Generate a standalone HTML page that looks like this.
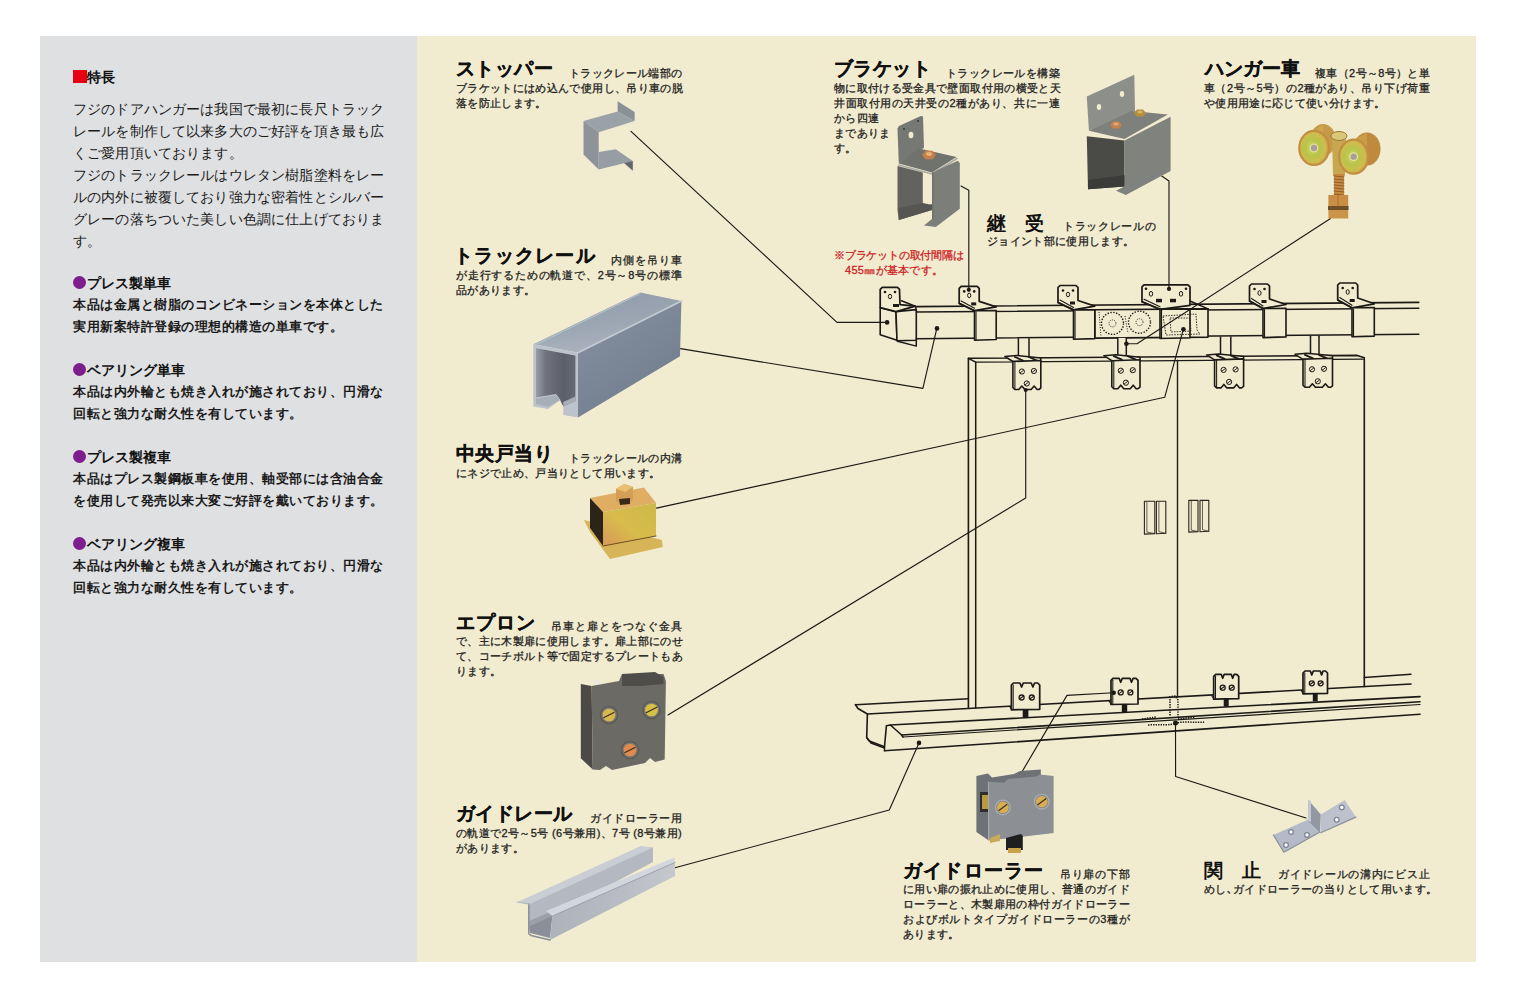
<!DOCTYPE html>
<html><head><meta charset="utf-8">
<style>
html,body{margin:0;padding:0;background:#fff;}
body{width:1520px;height:1002px;position:relative;overflow:hidden;font-family:"Liberation Sans",sans-serif;color:#111;}
#gray{position:absolute;left:40px;top:36px;width:377px;height:926px;background:#dfe0e2;}
#beige{position:absolute;left:417px;top:36px;width:1059px;height:926px;background:#f1ebcf;}
.t{position:absolute;white-space:nowrap;}
.lp{font-size:14px;line-height:22px;letter-spacing:0.15px;color:#1a1a1a;}
.lb{font-size:13px;line-height:22px;font-weight:bold;letter-spacing:0.5px;color:#1a1a1a;}
.h{font-size:14.3px;font-weight:bold;line-height:20px;}
.dot{display:inline-block;width:13px;height:13px;border-radius:50%;background:#7d1d8e;vertical-align:-1px;margin-right:1px;}
.sq{display:inline-block;width:13.5px;height:13.5px;background:#e60012;vertical-align:-1px;}
.tt{font-size:19px;font-weight:bold;line-height:24px;letter-spacing:0.4px;-webkit-text-stroke:0.35px #111;}
.d{font-size:11px;line-height:15px;font-weight:normal;-webkit-text-stroke-width:0.3px;letter-spacing:0.35px;color:#1e1e1e;}
.j{text-align:justify;text-align-last:justify;}
svg{position:absolute;left:0;top:0;}
</style></head><body>
<div id="gray"></div>
<div id="beige"></div>

<!-- left panel -->
<div class="t h" style="left:73px;top:67px;"><span class="sq"></span>特長</div>
<div class="t lp" style="left:73px;top:98px;">フジのドアハンガーは我国で最初に長尺トラック<br>レールを制作して以来多大のご好評を頂き最も広<br>くご愛用頂いております。<br>フジのトラックレールはウレタン樹脂塗料をレー<br>ルの内外に被覆しており強力な密着性とシルバー<br>グレーの落ちついた美しい色調に仕上げておりま<br>す。</div>

<div class="t h" style="left:73px;top:273px;"><span class="dot"></span>プレス製単車</div>
<div class="t lb" style="left:73px;top:294px;">本品は金属と樹脂のコンビネーションを本体とした<br>実用新案特許登録の理想的構造の単車です。</div>
<div class="t h" style="left:73px;top:360px;"><span class="dot"></span>ベアリング単車</div>
<div class="t lb" style="left:73px;top:381px;">本品は内外輪とも焼き入れが施されており、円滑な<br>回転と強力な耐久性を有しています。</div>
<div class="t h" style="left:73px;top:447px;"><span class="dot"></span>プレス製複車</div>
<div class="t lb" style="left:73px;top:468px;">本品はプレス製鋼板車を使用、軸受部には含油合金<br>を使用して発売以来大変ご好評を戴いております。</div>
<div class="t h" style="left:73px;top:534px;"><span class="dot"></span>ベアリング複車</div>
<div class="t lb" style="left:73px;top:555px;">本品は内外輪とも焼き入れが施されており、円滑な<br>回転と強力な耐久性を有しています。</div>

<!-- right labels -->
<div class="t tt" style="left:456px;top:57px;">ストッパー</div>
<div class="t d j" style="left:569px;top:66px;width:113px;">トラックレール端部の</div>
<div class="t d j" style="left:456px;top:81px;width:226px;">ブラケットにはめ込んで使用し、吊り車の脱</div>
<div class="t d" style="left:456px;top:96px;">落を防止します。</div>
<div class="t tt" style="left:454px;top:244px;letter-spacing:1.3px;">トラックレール</div>
<div class="t d j" style="left:611px;top:253px;width:71px;">内側を吊り車</div>
<div class="t d j" style="left:456px;top:268px;width:226px;">が走行するための軌道で、2号～8号の標準</div>
<div class="t d" style="left:456px;top:283px;">品があります。</div>
<div class="t tt" style="left:456px;top:442px;">中央戸当り</div>
<div class="t d j" style="left:569px;top:451px;width:113px;">トラックレールの内溝</div>
<div class="t d" style="left:456px;top:466px;">にネジで止め、戸当りとして用います。</div>
<div class="t tt" style="left:456px;top:611px;letter-spacing:0.9px;">エプロン</div>
<div class="t d j" style="left:551px;top:619px;width:131px;">吊車と扉とをつなぐ金具</div>
<div class="t d j" style="left:456px;top:634px;width:226px;">で、主に木製扉に使用します。扉上部にのせ</div>
<div class="t d j" style="left:456px;top:649px;width:226px;">て、コーチボルト等で固定するプレートもあ</div>
<div class="t d" style="left:456px;top:664px;">ります。</div>
<div class="t tt" style="left:456px;top:802px;">ガイドレール</div>
<div class="t d j" style="left:590px;top:811px;width:92px;">ガイドローラー用</div>
<div class="t d j" style="left:456px;top:826px;width:226px;">の軌道で2号～5号 (6号兼用)、7号 (8号兼用)</div>
<div class="t d" style="left:456px;top:841px;">があります。</div>
<div class="t tt" style="left:834px;top:57px;">ブラケット</div>
<div class="t d j" style="left:946px;top:66px;width:114px;">トラックレールを構築</div>
<div class="t d j" style="left:834px;top:81px;width:226px;">物に取付ける受金具で壁面取付用の横受と天</div>
<div class="t d j" style="left:834px;top:96px;width:226px;">井面取付用の天井受の2種があり、共に一連</div>
<div class="t d" style="left:834px;top:111px;">から四連</div>
<div class="t d" style="left:834px;top:126px;">までありま</div>
<div class="t d" style="left:834px;top:141px;">す。</div>
<div class="t tt" style="left:1205px;top:57px;letter-spacing:0px;">ハンガー車</div>
<div class="t d j" style="left:1315px;top:66px;width:115px;">複車（2号～8号）と単</div>
<div class="t d j" style="left:1204px;top:81px;width:226px;">車（2号～5号）の2種があり、吊り下げ荷重</div>
<div class="t d" style="left:1204px;top:96px;">や使用用途に応じて使い分けます。</div>
<div class="t tt" style="left:987px;top:212px;-webkit-text-stroke:0;font-size:19px;letter-spacing:0;">継　受</div>
<div class="t d j" style="left:1063px;top:219px;width:93px;">トラックレールの</div>
<div class="t d" style="left:987px;top:234px;">ジョイント部に使用します。</div>
<div class="t d" style="left:834px;top:248px;color:#cc1f28;letter-spacing:-0.2px;">※ブラケットの取付間隔は</div>
<div class="t d" style="left:845px;top:263px;color:#cc1f28;letter-spacing:0.3px;">455㎜が基本です。</div>
<div class="t tt" style="left:903px;top:859px;letter-spacing:1.2px;">ガイドローラー</div>
<div class="t d j" style="left:1060px;top:867px;width:70px;">吊り扉の下部</div>
<div class="t d j" style="left:903px;top:882px;width:227px;">に用い扉の振れ止めに使用し、普通のガイド</div>
<div class="t d j" style="left:903px;top:897px;width:227px;">ローラーと、木製扉用の枠付ガイドローラー</div>
<div class="t d j" style="left:903px;top:912px;width:227px;">およびボルトタイプガイドローラーの3種が</div>
<div class="t d" style="left:903px;top:927px;">あります。</div>
<div class="t tt" style="left:1204px;top:859px;-webkit-text-stroke:0;font-size:19px;letter-spacing:0;">関　止</div>
<div class="t d j" style="left:1278px;top:867px;width:152px;">ガイドレールの溝内にビス止</div>
<div class="t d j" style="left:1204px;top:882px;width:228px;">めし､ガイドローラーの当りとして用います。</div>
<svg width="1520" height="1002" viewBox="0 0 1520 1002">
<path d="M968.4,358.3 L1358.3,355.3 L1364.3,357.8 L1364.3,686.6 L968.4,707.4Z" fill="#f1ebcf" stroke="none" stroke-width="1.0" stroke-linejoin="round" />
<path d="M968.4,707.4 L968.4,358.3 L1357.3,355.4 L1364.3,357.8 L1364.3,686.6" fill="none" stroke="#1c1a16" stroke-width="1.6099999999999999" stroke-linejoin="round" stroke-linecap="round" />
<path d="M968.4,358.3 L975.7,362.2 L975.7,708.0" fill="none" stroke="#1c1a16" stroke-width="1.4949999999999999" stroke-linejoin="round" stroke-linecap="round" />
<path d="M975.7,362.2 L1363.3,359.2" fill="none" stroke="#1c1a16" stroke-width="1.265" stroke-linejoin="round" stroke-linecap="round" />
<path d="M1177.5,360.2 L1177.5,696.9" fill="none" stroke="#1c1a16" stroke-width="1.38" stroke-linejoin="round" stroke-linecap="round" />
<path d="M1144.4,501.2 L1154.8,501.2 L1154.8,533.6 L1144.4,534.1Z" fill="none" stroke="#2a261e" stroke-width="1.1" stroke-linejoin="round" />
<path d="M1146.9,502.2 L1146.9,532.1 L1154.8,533.6" fill="none" stroke="#2a261e" stroke-width="0.7" stroke-linejoin="round" stroke-linecap="round" />
<path d="M1156.4,501.2 L1165.8,501.2 L1165.8,533.2 L1156.4,533.7Z" fill="none" stroke="#2a261e" stroke-width="1.1" stroke-linejoin="round" />
<path d="M1158.9,502.2 L1158.9,531.7 L1165.8,533.2" fill="none" stroke="#2a261e" stroke-width="0.7" stroke-linejoin="round" stroke-linecap="round" />
<path d="M1188.8,500.4 L1198.0,500.4 L1198.0,531.6 L1188.8,532.1Z" fill="none" stroke="#2a261e" stroke-width="1.1" stroke-linejoin="round" />
<path d="M1191.3,501.4 L1191.3,530.1 L1198.0,531.6" fill="none" stroke="#2a261e" stroke-width="0.7" stroke-linejoin="round" stroke-linecap="round" />
<path d="M1200.0,500.4 L1208.8,500.4 L1208.8,531.2 L1200.0,531.7Z" fill="none" stroke="#2a261e" stroke-width="1.1" stroke-linejoin="round" />
<path d="M1202.5,501.4 L1202.5,529.7 L1208.8,531.2" fill="none" stroke="#2a261e" stroke-width="0.7" stroke-linejoin="round" stroke-linecap="round" />
<path d="M855.5,704.7 L858.0,708.5 L867.4,714.0 L866.7,737.6 L869.3,741.0 L884.5,746.8 L886.4,725.8 L890.4,725.0 L901.6,735.0 L903.0,737.0" fill="none" stroke="#1c1a16" stroke-width="1.6099999999999999" stroke-linejoin="round" stroke-linecap="round" />
<path d="M855.5,704.7 L968.4,698.8" fill="none" stroke="#1c1a16" stroke-width="1.6099999999999999" stroke-linejoin="round" stroke-linecap="round" />
<path d="M1364.3,677.5 L1411.0,674.2" fill="none" stroke="#1c1a16" stroke-width="1.6099999999999999" stroke-linejoin="round" stroke-linecap="round" />
<path d="M867.4,714.0 L1411.0,684.0" fill="none" stroke="#1c1a16" stroke-width="1.6099999999999999" stroke-linejoin="round" stroke-linecap="round" />
<path d="M890.4,725.0 L1420.0,696.6" fill="none" stroke="#1c1a16" stroke-width="1.6099999999999999" stroke-linejoin="round" stroke-linecap="round" />
<path d="M901.6,735.0 L1420.0,701.8" fill="none" stroke="#1c1a16" stroke-width="1.6099999999999999" stroke-linejoin="round" stroke-linecap="round" />
<path d="M903.0,737.0 L1420.0,704.5" fill="none" stroke="#1c1a16" stroke-width="1.15" stroke-linejoin="round" stroke-linecap="round" />
<path d="M884.5,750.8 L1420.0,714.3" fill="none" stroke="#1c1a16" stroke-width="1.6099999999999999" stroke-linejoin="round" stroke-linecap="round" />
<path d="M867.0,738.0 L871.0,743.0 L884.5,748.0" fill="none" stroke="#1c1a16" stroke-width="1.4949999999999999" stroke-linejoin="round" stroke-linecap="round" />
<path d="M884.5,746.8 L884.5,750.8" fill="none" stroke="#1c1a16" stroke-width="1.38" stroke-linejoin="round" stroke-linecap="round" />
<path d="M880.2,307.6 L896.0,311.6 L897.0,340.2 L880.2,334.8Z" fill="#f1ebcf" stroke="#1c1a16" stroke-width="1.6099999999999999" stroke-linejoin="round" />
<path d="M896.0,311.6 L916.3,309.6 L916.3,340.2 L897.0,340.7Z" fill="#f1ebcf" stroke="#1c1a16" stroke-width="1.6099999999999999" stroke-linejoin="round" />
<path d="M901.5,300.7 L915.3,306.2 L916.3,309.6" fill="none" stroke="#1c1a16" stroke-width="1.4949999999999999" stroke-linejoin="round" stroke-linecap="round" />
<path d="M897.5,341.2 L916.3,346.1 L916.3,340.2" fill="none" stroke="#1c1a16" stroke-width="1.4949999999999999" stroke-linejoin="round" stroke-linecap="round" />
<path d="M916.3,306.6 L1418.8,302.4" fill="none" stroke="#1c1a16" stroke-width="1.6099999999999999" stroke-linejoin="round" stroke-linecap="round" />
<path d="M916.3,312.1 L1418.8,308.3" fill="none" stroke="#1c1a16" stroke-width="1.4949999999999999" stroke-linejoin="round" stroke-linecap="round" />
<path d="M916.3,338.7 L1418.8,334.2" fill="none" stroke="#1c1a16" stroke-width="1.6099999999999999" stroke-linejoin="round" stroke-linecap="round" />
<path d="M880.2,305.7 L880.2,289.4 L882.2,287.4 L897.5,287.4 L899.5,289.4 L900.0,304.7 L915.3,306.2 L896.0,311.6 L880.2,307.6Z" fill="#f1ebcf" stroke="#1c1a16" stroke-width="1.7249999999999999" stroke-linejoin="round" />
<circle cx="885.0" cy="292.0" r="1.3" fill="#1c1a16"/>
<circle cx="895.0" cy="292.0" r="1.3" fill="#1c1a16"/>
<ellipse cx="890" cy="296.5" rx="1.6" ry="2.3" fill="none" stroke="#1c1a16" stroke-width="1"/>
<path d="M893.0,304.0 L899.0,304.0 L899.0,307.0 L893.0,307.0Z" fill="#1c1a16" stroke="none" stroke-width="1.0" stroke-linejoin="round" />
<path d="M959.2,288.4 L961.2,286.4 L977.2,286.4 L979.2,288.4 L979.2,302.4 L979.2,303.4Z" fill="none" stroke="none" stroke-width="1.0" stroke-linejoin="round" />
<path d="M959.2,303.4 L959.2,288.4 L961.2,286.4 L977.2,286.4 L979.2,288.4 L979.2,301.4 L996.2,306.9 L974.5,310.7Z" fill="#f1ebcf" stroke="#1c1a16" stroke-width="1.7249999999999999" stroke-linejoin="round" />
<path d="M959.2,303.4 L974.5,310.7" fill="none" stroke="#1c1a16" stroke-width="1.4949999999999999" stroke-linejoin="round" stroke-linecap="round" />
<path d="M961.2,300.9 L974.5,308.2" fill="none" stroke="#1c1a16" stroke-width="1.15" stroke-linejoin="round" stroke-linecap="round" />
<path d="M974.5,310.7 L996.2,310.5 L996.2,339.5 L974.5,340.2Z" fill="#f1ebcf" stroke="#1c1a16" stroke-width="1.6099999999999999" stroke-linejoin="round" />
<path d="M976.0,311.7 L976.0,339.7" fill="none" stroke="#1c1a16" stroke-width="1.15" stroke-linejoin="round" stroke-linecap="round" />
<circle cx="964.2" cy="291.4" r="1.3" fill="#1c1a16"/>
<circle cx="974.2" cy="291.4" r="1.3" fill="#1c1a16"/>
<ellipse cx="969.2" cy="295.4" rx="1.6" ry="2.3" fill="none" stroke="#1c1a16" stroke-width="1"/>
<path d="M971.2,302.4 L976.2,302.4 L976.2,305.4 L971.2,305.4Z" fill="#1c1a16" stroke="none" stroke-width="1.0" stroke-linejoin="round" />
<path d="M1058.0,287.5 L1060.0,285.5 L1076.0,285.5 L1078.0,287.5 L1078.0,301.5 L1078.0,302.5Z" fill="none" stroke="none" stroke-width="1.0" stroke-linejoin="round" />
<path d="M1058.0,302.5 L1058.0,287.5 L1060.0,285.5 L1076.0,285.5 L1078.0,287.5 L1078.0,300.5 L1094.8,306.1 L1073.5,309.9Z" fill="#f1ebcf" stroke="#1c1a16" stroke-width="1.7249999999999999" stroke-linejoin="round" />
<path d="M1058.0,302.5 L1073.5,309.9" fill="none" stroke="#1c1a16" stroke-width="1.4949999999999999" stroke-linejoin="round" stroke-linecap="round" />
<path d="M1060.0,300.0 L1073.5,307.4" fill="none" stroke="#1c1a16" stroke-width="1.15" stroke-linejoin="round" stroke-linecap="round" />
<path d="M1073.5,309.9 L1094.8,309.7 L1094.8,338.6 L1073.5,339.3Z" fill="#f1ebcf" stroke="#1c1a16" stroke-width="1.6099999999999999" stroke-linejoin="round" />
<path d="M1075.0,310.9 L1075.0,338.8" fill="none" stroke="#1c1a16" stroke-width="1.15" stroke-linejoin="round" stroke-linecap="round" />
<circle cx="1063.0" cy="290.5" r="1.3" fill="#1c1a16"/>
<circle cx="1073.0" cy="290.5" r="1.3" fill="#1c1a16"/>
<ellipse cx="1068.0" cy="294.5" rx="1.6" ry="2.3" fill="none" stroke="#1c1a16" stroke-width="1"/>
<path d="M1070.0,301.5 L1075.0,301.5 L1075.0,304.5 L1070.0,304.5Z" fill="#1c1a16" stroke="none" stroke-width="1.0" stroke-linejoin="round" />
<path d="M1094.8,309.7 L1208.0,308.9 L1208.0,337.1 L1094.8,338.1Z" fill="#f1ebcf" stroke="#1c1a16" stroke-width="1.6099999999999999" stroke-linejoin="round" />
<path d="M1142.0,286.8 L1144.0,284.8 L1188.0,284.8 L1190.0,286.8 L1190.0,300.8 L1190.0,301.8Z" fill="none" stroke="none" stroke-width="1.0" stroke-linejoin="round" />
<path d="M1142.0,301.8 L1142.0,286.8 L1144.0,284.8 L1188.0,284.8 L1190.0,286.8 L1190.0,299.8 L1190.0,305.3 L1160.0,309.3Z" fill="#f1ebcf" stroke="#1c1a16" stroke-width="1.7249999999999999" stroke-linejoin="round" />
<path d="M1142.0,301.8 L1160.0,309.3" fill="none" stroke="#1c1a16" stroke-width="1.4949999999999999" stroke-linejoin="round" stroke-linecap="round" />
<path d="M1144.0,299.3 L1160.0,306.8" fill="none" stroke="#1c1a16" stroke-width="1.15" stroke-linejoin="round" stroke-linecap="round" />
<path d="M1160.0,309.3 L1190.0,309.0 L1190.0,337.7 L1160.0,338.5Z" fill="#f1ebcf" stroke="#1c1a16" stroke-width="1.6099999999999999" stroke-linejoin="round" />
<path d="M1161.5,310.3 L1161.5,338.0" fill="none" stroke="#1c1a16" stroke-width="1.15" stroke-linejoin="round" stroke-linecap="round" />
<circle cx="1146.0" cy="288.8" r="1.3" fill="#1c1a16"/>
<circle cx="1186.0" cy="288.8" r="1.3" fill="#1c1a16"/>
<ellipse cx="1151.0" cy="293.8" rx="1.7" ry="2.4" fill="none" stroke="#1c1a16" stroke-width="1"/>
<ellipse cx="1181.0" cy="293.8" rx="1.7" ry="2.4" fill="none" stroke="#1c1a16" stroke-width="1"/>
<path d="M1156.0,298.8 L1162.0,298.8 L1162.0,302.3 L1156.0,302.3Z" fill="#1c1a16" stroke="none" stroke-width="1.0" stroke-linejoin="round" />
<path d="M1170.0,298.8 L1176.0,298.8 L1176.0,302.3 L1170.0,302.3Z" fill="#1c1a16" stroke="none" stroke-width="1.0" stroke-linejoin="round" />
<path d="M1160.0,309.3 L1208.0,308.9" fill="none" stroke="#1c1a16" stroke-width="1.4949999999999999" stroke-linejoin="round" stroke-linecap="round" />
<path d="M1190.0,301.0 L1208.0,308.9" fill="none" stroke="#1c1a16" stroke-width="1.4949999999999999" stroke-linejoin="round" stroke-linecap="round" />
<path d="M1249.5,286.0 L1251.5,284.0 L1267.5,284.0 L1269.5,286.0 L1269.5,300.0 L1269.5,301.0Z" fill="none" stroke="none" stroke-width="1.0" stroke-linejoin="round" />
<path d="M1249.5,301.0 L1249.5,286.0 L1251.5,284.0 L1267.5,284.0 L1269.5,286.0 L1269.5,299.0 L1286.0,304.5 L1263.0,308.5Z" fill="#f1ebcf" stroke="#1c1a16" stroke-width="1.7249999999999999" stroke-linejoin="round" />
<path d="M1249.5,301.0 L1263.0,308.5" fill="none" stroke="#1c1a16" stroke-width="1.4949999999999999" stroke-linejoin="round" stroke-linecap="round" />
<path d="M1251.5,298.5 L1263.0,306.0" fill="none" stroke="#1c1a16" stroke-width="1.15" stroke-linejoin="round" stroke-linecap="round" />
<path d="M1263.0,308.5 L1286.0,308.3 L1286.0,336.9 L1263.0,337.6Z" fill="#f1ebcf" stroke="#1c1a16" stroke-width="1.6099999999999999" stroke-linejoin="round" />
<path d="M1264.5,309.5 L1264.5,337.1" fill="none" stroke="#1c1a16" stroke-width="1.15" stroke-linejoin="round" stroke-linecap="round" />
<circle cx="1254.5" cy="289.0" r="1.3" fill="#1c1a16"/>
<circle cx="1264.5" cy="289.0" r="1.3" fill="#1c1a16"/>
<ellipse cx="1259.5" cy="293.0" rx="1.6" ry="2.3" fill="none" stroke="#1c1a16" stroke-width="1"/>
<path d="M1261.5,300.0 L1266.5,300.0 L1266.5,303.0 L1261.5,303.0Z" fill="#1c1a16" stroke="none" stroke-width="1.0" stroke-linejoin="round" />
<path d="M1337.7,285.0 L1339.7,283.0 L1355.7,283.0 L1357.7,285.0 L1357.7,299.0 L1357.7,300.0Z" fill="none" stroke="none" stroke-width="1.0" stroke-linejoin="round" />
<path d="M1337.7,300.0 L1337.7,285.0 L1339.7,283.0 L1355.7,283.0 L1357.7,285.0 L1357.7,298.0 L1374.3,303.8 L1352.0,307.8Z" fill="#f1ebcf" stroke="#1c1a16" stroke-width="1.7249999999999999" stroke-linejoin="round" />
<path d="M1337.7,300.0 L1352.0,307.8" fill="none" stroke="#1c1a16" stroke-width="1.4949999999999999" stroke-linejoin="round" stroke-linecap="round" />
<path d="M1339.7,297.5 L1352.0,305.3" fill="none" stroke="#1c1a16" stroke-width="1.15" stroke-linejoin="round" stroke-linecap="round" />
<path d="M1352.0,307.8 L1374.3,307.6 L1374.3,336.1 L1352.0,336.8Z" fill="#f1ebcf" stroke="#1c1a16" stroke-width="1.6099999999999999" stroke-linejoin="round" />
<path d="M1353.5,308.8 L1353.5,336.3" fill="none" stroke="#1c1a16" stroke-width="1.15" stroke-linejoin="round" stroke-linecap="round" />
<circle cx="1342.7" cy="288.0" r="1.3" fill="#1c1a16"/>
<circle cx="1352.7" cy="288.0" r="1.3" fill="#1c1a16"/>
<ellipse cx="1347.7" cy="292.0" rx="1.6" ry="2.3" fill="none" stroke="#1c1a16" stroke-width="1"/>
<path d="M1349.7,299.0 L1354.7,299.0 L1354.7,302.0 L1349.7,302.0Z" fill="#1c1a16" stroke="none" stroke-width="1.0" stroke-linejoin="round" />
<path d="M1094.8,309.7 L1094.8,338.1" fill="none" stroke="#1c1a16" stroke-width="1.6099999999999999" stroke-linejoin="round" stroke-linecap="round" />
<circle cx="1112.5" cy="323.4" r="11" fill="none" stroke="#1c1a16" stroke-width="1.4" stroke-dasharray="1.4 1.5"/>
<circle cx="1112.5" cy="323.4" r="3.5" fill="none" stroke="#1c1a16" stroke-width="0.9" stroke-dasharray="1 1.2"/>
<circle cx="1139.5" cy="322.2" r="11" fill="none" stroke="#1c1a16" stroke-width="1.4" stroke-dasharray="1.4 1.5"/>
<circle cx="1139.5" cy="322.2" r="3.5" fill="none" stroke="#1c1a16" stroke-width="0.9" stroke-dasharray="1 1.2"/>
<path d="M1099,312 L1101,336 M1125,316 L1128,333" stroke="#1c1a16" stroke-width="1" stroke-dasharray="1 1.5" fill="none"/>
<path d="M1163,316 L1196,314 L1197,330 L1200,334 L1166,335 Z M1170,318 L1190,318 L1191,331 L1171,332 Z" stroke="#1c1a16" stroke-width="0.9" stroke-dasharray="1.5 1.2" fill="none"/>
<path d="M1018.4,338.8 L1029.0,338.8 L1029.0,356.0 L1018.4,356.0Z" fill="#f1ebcf" stroke="none" stroke-width="1.0" stroke-linejoin="round" />
<path d="M1018.4,338.8 L1018.4,356.0" fill="none" stroke="#1c1a16" stroke-width="1.4949999999999999" stroke-linejoin="round" stroke-linecap="round" />
<path d="M1029.0,338.8 L1029.0,356.0" fill="none" stroke="#1c1a16" stroke-width="1.4949999999999999" stroke-linejoin="round" stroke-linecap="round" />
<path d="M1004.9,356.5 L1016.9,355.5 L1040.8,358.0 L1040.8,361.5 L1012.9,361.5Z" fill="#f1ebcf" stroke="#1c1a16" stroke-width="1.4949999999999999" stroke-linejoin="round" />
<path d="M1014.9,357.0 L1022.9,360.5" fill="none" stroke="#1c1a16" stroke-width="1.8399999999999999" stroke-linejoin="round" stroke-linecap="round" />
<path d="M1028.9,357.0 L1036.9,360.5" fill="none" stroke="#1c1a16" stroke-width="1.8399999999999999" stroke-linejoin="round" stroke-linecap="round" />
<path d="M1012.9,361.5 L1040.8,360.5 L1040.8,388.0 L1038.8,389.5 L1037.1,389.5 L1034.1,386.0 L1031.1,389.5 L1024.8,389.5 L1021.8,386.0 L1018.8,389.5 L1014.9,389.5 L1012.9,387.5Z" fill="#f1ebcf" stroke="#1c1a16" stroke-width="1.6099999999999999" stroke-linejoin="round" />
<path d="M1014.9,361.5 L1014.9,388.5" fill="none" stroke="#1c1a16" stroke-width="1.035" stroke-linejoin="round" stroke-linecap="round" />
<circle cx="1021.9" cy="371.5" r="2.6" fill="none" stroke="#1c1a16" stroke-width="1.0" />
<path d="M1020.3,372.7 L1023.5,370.3" fill="none" stroke="#1c1a16" stroke-width="0.9199999999999999" stroke-linejoin="round" stroke-linecap="round" />
<circle cx="1033.9" cy="371.0" r="2.6" fill="none" stroke="#1c1a16" stroke-width="1.0" />
<path d="M1032.3,372.2 L1035.5,369.8" fill="none" stroke="#1c1a16" stroke-width="0.9199999999999999" stroke-linejoin="round" stroke-linecap="round" />
<circle cx="1026.8" cy="383.5" r="2.6" fill="none" stroke="#1c1a16" stroke-width="1.0" />
<path d="M1025.2,384.7 L1028.4,382.3" fill="none" stroke="#1c1a16" stroke-width="0.9199999999999999" stroke-linejoin="round" stroke-linecap="round" />
<path d="M1117.8,337.9 L1126.3,337.9 L1126.3,355.2 L1117.8,355.2Z" fill="#f1ebcf" stroke="none" stroke-width="1.0" stroke-linejoin="round" />
<path d="M1117.8,337.9 L1117.8,355.2" fill="none" stroke="#1c1a16" stroke-width="1.4949999999999999" stroke-linejoin="round" stroke-linecap="round" />
<path d="M1126.3,337.9 L1126.3,355.2" fill="none" stroke="#1c1a16" stroke-width="1.4949999999999999" stroke-linejoin="round" stroke-linecap="round" />
<path d="M1103.8,355.7 L1115.8,354.7 L1140.0,357.2 L1140.0,360.7 L1111.8,360.7Z" fill="#f1ebcf" stroke="#1c1a16" stroke-width="1.4949999999999999" stroke-linejoin="round" />
<path d="M1113.8,356.2 L1121.8,359.7" fill="none" stroke="#1c1a16" stroke-width="1.8399999999999999" stroke-linejoin="round" stroke-linecap="round" />
<path d="M1127.8,356.2 L1135.8,359.7" fill="none" stroke="#1c1a16" stroke-width="1.8399999999999999" stroke-linejoin="round" stroke-linecap="round" />
<path d="M1111.8,360.7 L1140.0,359.7 L1140.0,387.2 L1138.0,388.7 L1136.2,388.7 L1133.2,385.2 L1130.2,388.7 L1123.8,388.7 L1120.8,385.2 L1117.8,388.7 L1113.8,388.7 L1111.8,386.7Z" fill="#f1ebcf" stroke="#1c1a16" stroke-width="1.6099999999999999" stroke-linejoin="round" />
<path d="M1113.8,360.7 L1113.8,387.7" fill="none" stroke="#1c1a16" stroke-width="1.035" stroke-linejoin="round" stroke-linecap="round" />
<circle cx="1120.8" cy="370.7" r="2.6" fill="none" stroke="#1c1a16" stroke-width="1.0" />
<path d="M1119.2,371.9 L1122.4,369.5" fill="none" stroke="#1c1a16" stroke-width="0.9199999999999999" stroke-linejoin="round" stroke-linecap="round" />
<circle cx="1132.8" cy="370.2" r="2.6" fill="none" stroke="#1c1a16" stroke-width="1.0" />
<path d="M1131.2,371.4 L1134.4,369.0" fill="none" stroke="#1c1a16" stroke-width="0.9199999999999999" stroke-linejoin="round" stroke-linecap="round" />
<circle cx="1125.9" cy="382.7" r="2.6" fill="none" stroke="#1c1a16" stroke-width="1.0" />
<path d="M1124.3,383.9 L1127.5,381.5" fill="none" stroke="#1c1a16" stroke-width="0.9199999999999999" stroke-linejoin="round" stroke-linecap="round" />
<path d="M1220.5,337.0 L1230.8,337.0 L1230.8,354.4 L1220.5,354.4Z" fill="#f1ebcf" stroke="none" stroke-width="1.0" stroke-linejoin="round" />
<path d="M1220.5,337.0 L1220.5,354.4" fill="none" stroke="#1c1a16" stroke-width="1.4949999999999999" stroke-linejoin="round" stroke-linecap="round" />
<path d="M1230.8,337.0 L1230.8,354.4" fill="none" stroke="#1c1a16" stroke-width="1.4949999999999999" stroke-linejoin="round" stroke-linecap="round" />
<path d="M1206.6,354.9 L1218.6,353.9 L1243.6,356.4 L1243.6,359.9 L1214.6,359.9Z" fill="#f1ebcf" stroke="#1c1a16" stroke-width="1.4949999999999999" stroke-linejoin="round" />
<path d="M1216.6,355.4 L1224.6,358.9" fill="none" stroke="#1c1a16" stroke-width="1.8399999999999999" stroke-linejoin="round" stroke-linecap="round" />
<path d="M1230.6,355.4 L1238.6,358.9" fill="none" stroke="#1c1a16" stroke-width="1.8399999999999999" stroke-linejoin="round" stroke-linecap="round" />
<path d="M1214.6,359.9 L1243.6,358.9 L1243.6,386.4 L1241.6,387.9 L1239.6,387.9 L1236.6,384.4 L1233.6,387.9 L1226.9,387.9 L1223.9,384.4 L1220.9,387.9 L1216.6,387.9 L1214.6,385.9Z" fill="#f1ebcf" stroke="#1c1a16" stroke-width="1.6099999999999999" stroke-linejoin="round" />
<path d="M1216.6,359.9 L1216.6,386.9" fill="none" stroke="#1c1a16" stroke-width="1.035" stroke-linejoin="round" stroke-linecap="round" />
<circle cx="1223.6" cy="369.9" r="2.6" fill="none" stroke="#1c1a16" stroke-width="1.0" />
<path d="M1222.0,371.1 L1225.2,368.7" fill="none" stroke="#1c1a16" stroke-width="0.9199999999999999" stroke-linejoin="round" stroke-linecap="round" />
<circle cx="1235.6" cy="369.4" r="2.6" fill="none" stroke="#1c1a16" stroke-width="1.0" />
<path d="M1234.0,370.6 L1237.2,368.2" fill="none" stroke="#1c1a16" stroke-width="0.9199999999999999" stroke-linejoin="round" stroke-linecap="round" />
<circle cx="1229.1" cy="381.9" r="2.6" fill="none" stroke="#1c1a16" stroke-width="1.0" />
<path d="M1227.5,383.1 L1230.7,380.7" fill="none" stroke="#1c1a16" stroke-width="0.9199999999999999" stroke-linejoin="round" stroke-linecap="round" />
<path d="M1310.5,336.2 L1319.0,336.2 L1319.0,353.8 L1310.5,353.8Z" fill="#f1ebcf" stroke="none" stroke-width="1.0" stroke-linejoin="round" />
<path d="M1310.5,336.2 L1310.5,353.8" fill="none" stroke="#1c1a16" stroke-width="1.4949999999999999" stroke-linejoin="round" stroke-linecap="round" />
<path d="M1319.0,336.2 L1319.0,353.8" fill="none" stroke="#1c1a16" stroke-width="1.4949999999999999" stroke-linejoin="round" stroke-linecap="round" />
<path d="M1295.0,354.3 L1307.0,353.3 L1332.5,355.8 L1332.5,359.3 L1303.0,359.3Z" fill="#f1ebcf" stroke="#1c1a16" stroke-width="1.4949999999999999" stroke-linejoin="round" />
<path d="M1305.0,354.8 L1313.0,358.3" fill="none" stroke="#1c1a16" stroke-width="1.8399999999999999" stroke-linejoin="round" stroke-linecap="round" />
<path d="M1319.0,354.8 L1327.0,358.3" fill="none" stroke="#1c1a16" stroke-width="1.8399999999999999" stroke-linejoin="round" stroke-linecap="round" />
<path d="M1303.0,359.3 L1332.5,358.3 L1332.5,385.8 L1330.5,387.3 L1328.4,387.3 L1325.4,383.8 L1322.4,387.3 L1315.4,387.3 L1312.4,383.8 L1309.4,387.3 L1305.0,387.3 L1303.0,385.3Z" fill="#f1ebcf" stroke="#1c1a16" stroke-width="1.6099999999999999" stroke-linejoin="round" />
<path d="M1305.0,359.3 L1305.0,386.3" fill="none" stroke="#1c1a16" stroke-width="1.035" stroke-linejoin="round" stroke-linecap="round" />
<circle cx="1312.0" cy="369.3" r="2.6" fill="none" stroke="#1c1a16" stroke-width="1.0" />
<path d="M1310.4,370.5 L1313.6,368.1" fill="none" stroke="#1c1a16" stroke-width="0.9199999999999999" stroke-linejoin="round" stroke-linecap="round" />
<circle cx="1324.0" cy="368.8" r="2.6" fill="none" stroke="#1c1a16" stroke-width="1.0" />
<path d="M1322.4,370.0 L1325.6,367.6" fill="none" stroke="#1c1a16" stroke-width="0.9199999999999999" stroke-linejoin="round" stroke-linecap="round" />
<circle cx="1317.8" cy="381.3" r="2.6" fill="none" stroke="#1c1a16" stroke-width="1.0" />
<path d="M1316.2,382.5 L1319.3,380.1" fill="none" stroke="#1c1a16" stroke-width="0.9199999999999999" stroke-linejoin="round" stroke-linecap="round" />
<path d="M1011.4,685.0 L1013.4,683.0 L1019.9,683.0 L1021.6,687.0 L1023.3,683.0 L1031.2,683.0 L1032.9,687.0 L1034.6,683.0 L1037.7,683.0 L1039.7,685.0 L1039.7,709.3 L1011.4,709.8Z" fill="#f1ebcf" stroke="#1c1a16" stroke-width="1.7249999999999999" stroke-linejoin="round" />
<path d="M1013.2,685.0 L1013.2,709.3" fill="none" stroke="#1c1a16" stroke-width="1.035" stroke-linejoin="round" stroke-linecap="round" />
<path d="M1009.4,706.3 L1011.4,709.3" fill="none" stroke="#1c1a16" stroke-width="1.15" stroke-linejoin="round" stroke-linecap="round" />
<circle cx="1021.6" cy="697.5" r="2.5" fill="none" stroke="#1c1a16" stroke-width="1.3" />
<path d="M1020.1,698.5 L1023.1,696.5" fill="none" stroke="#1c1a16" stroke-width="1.035" stroke-linejoin="round" stroke-linecap="round" />
<circle cx="1031.8" cy="697.5" r="2.5" fill="none" stroke="#1c1a16" stroke-width="1.3" />
<path d="M1030.3,698.5 L1033.3,696.5" fill="none" stroke="#1c1a16" stroke-width="1.035" stroke-linejoin="round" stroke-linecap="round" />
<path d="M1022.7,709.3 L1028.4,709.3 L1028.4,717.3 L1022.7,717.3Z" fill="#1c1a16" stroke="none" stroke-width="1.0" stroke-linejoin="round" />
<path d="M1111.0,680.3 L1113.0,678.3 L1119.1,678.3 L1120.7,682.3 L1122.3,678.3 L1129.9,678.3 L1131.5,682.3 L1133.1,678.3 L1136.0,678.3 L1138.0,680.3 L1138.0,704.0 L1111.0,704.5Z" fill="#f1ebcf" stroke="#1c1a16" stroke-width="1.7249999999999999" stroke-linejoin="round" />
<path d="M1112.8,680.3 L1112.8,704.0" fill="none" stroke="#1c1a16" stroke-width="1.035" stroke-linejoin="round" stroke-linecap="round" />
<path d="M1109.0,701.0 L1111.0,704.0" fill="none" stroke="#1c1a16" stroke-width="1.15" stroke-linejoin="round" stroke-linecap="round" />
<circle cx="1120.7" cy="692.4" r="2.5" fill="none" stroke="#1c1a16" stroke-width="1.3" />
<path d="M1119.2,693.4 L1122.2,691.4" fill="none" stroke="#1c1a16" stroke-width="1.035" stroke-linejoin="round" stroke-linecap="round" />
<circle cx="1130.4" cy="692.4" r="2.5" fill="none" stroke="#1c1a16" stroke-width="1.3" />
<path d="M1128.9,693.4 L1131.9,691.4" fill="none" stroke="#1c1a16" stroke-width="1.035" stroke-linejoin="round" stroke-linecap="round" />
<path d="M1121.8,704.0 L1127.2,704.0 L1127.2,712.0 L1121.8,712.0Z" fill="#1c1a16" stroke="none" stroke-width="1.0" stroke-linejoin="round" />
<path d="M1213.7,676.3 L1215.7,674.3 L1221.2,674.3 L1222.7,678.3 L1224.2,674.3 L1231.2,674.3 L1232.7,678.3 L1234.2,674.3 L1236.7,674.3 L1238.7,676.3 L1238.7,698.7 L1213.7,699.2Z" fill="#f1ebcf" stroke="#1c1a16" stroke-width="1.7249999999999999" stroke-linejoin="round" />
<path d="M1215.5,676.3 L1215.5,698.7" fill="none" stroke="#1c1a16" stroke-width="1.035" stroke-linejoin="round" stroke-linecap="round" />
<path d="M1211.7,695.7 L1213.7,698.7" fill="none" stroke="#1c1a16" stroke-width="1.15" stroke-linejoin="round" stroke-linecap="round" />
<circle cx="1222.7" cy="687.7" r="2.5" fill="none" stroke="#1c1a16" stroke-width="1.3" />
<path d="M1221.2,688.7 L1224.2,686.7" fill="none" stroke="#1c1a16" stroke-width="1.035" stroke-linejoin="round" stroke-linecap="round" />
<circle cx="1231.7" cy="687.7" r="2.5" fill="none" stroke="#1c1a16" stroke-width="1.3" />
<path d="M1230.2,688.7 L1233.2,686.7" fill="none" stroke="#1c1a16" stroke-width="1.035" stroke-linejoin="round" stroke-linecap="round" />
<path d="M1223.7,698.7 L1228.7,698.7 L1228.7,706.7 L1223.7,706.7Z" fill="#1c1a16" stroke="none" stroke-width="1.0" stroke-linejoin="round" />
<path d="M1303.0,673.0 L1305.0,671.0 L1310.3,671.0 L1311.8,675.0 L1313.3,671.0 L1320.2,671.0 L1321.6,675.0 L1323.1,671.0 L1325.5,671.0 L1327.5,673.0 L1327.5,693.3 L1303.0,693.8Z" fill="#f1ebcf" stroke="#1c1a16" stroke-width="1.7249999999999999" stroke-linejoin="round" />
<path d="M1304.8,673.0 L1304.8,693.3" fill="none" stroke="#1c1a16" stroke-width="1.035" stroke-linejoin="round" stroke-linecap="round" />
<path d="M1301.0,690.3 L1303.0,693.3" fill="none" stroke="#1c1a16" stroke-width="1.15" stroke-linejoin="round" stroke-linecap="round" />
<circle cx="1311.8" cy="683.3" r="2.5" fill="none" stroke="#1c1a16" stroke-width="1.3" />
<path d="M1310.3,684.3 L1313.3,682.3" fill="none" stroke="#1c1a16" stroke-width="1.035" stroke-linejoin="round" stroke-linecap="round" />
<circle cx="1320.6" cy="683.3" r="2.5" fill="none" stroke="#1c1a16" stroke-width="1.3" />
<path d="M1319.1,684.3 L1322.1,682.3" fill="none" stroke="#1c1a16" stroke-width="1.035" stroke-linejoin="round" stroke-linecap="round" />
<path d="M1312.8,693.3 L1317.7,693.3 L1317.7,701.3 L1312.8,701.3Z" fill="#1c1a16" stroke="none" stroke-width="1.0" stroke-linejoin="round" />
<path d="M1169,697 L1175,696 L1178,700 L1178,719 M1170,699 L1170,716 M1142,719 L1156,717 M1148,725 C1160,724 1170,726 1176,723 C1186,721 1196,723 1205,722 M1178,719 L1195,717" stroke="#1c1a16" stroke-width="1.5" stroke-dasharray="1.4 1.1" fill="none"/>
<path d="M631.0,131.3 L837.0,322.4 L887.1,322.4" fill="none" stroke="#1c1a16" stroke-width="1.15" stroke-linejoin="round" stroke-linecap="round" />
<circle cx="887.1" cy="322.4" r="2.3" fill="#1c1a16"/>
<path d="M680.5,348.6 L922.9,388.4 L936.7,328.8" fill="none" stroke="#1c1a16" stroke-width="1.15" stroke-linejoin="round" stroke-linecap="round" />
<circle cx="937.0" cy="328.4" r="2.3" fill="#1c1a16"/>
<path d="M656.5,508.1 L1164.7,397.3 L1183.4,329.2" fill="none" stroke="#1c1a16" stroke-width="1.15" stroke-linejoin="round" stroke-linecap="round" />
<circle cx="1183.4" cy="329.2" r="2.3" fill="#1c1a16"/>
<path d="M668.0,715.0 L1025.7,498.0 L1025.7,390.0" fill="none" stroke="#1c1a16" stroke-width="1.15" stroke-linejoin="round" stroke-linecap="round" />
<circle cx="1025.7" cy="390.0" r="2.0" fill="#1c1a16"/>
<path d="M675.0,867.7 L889.3,810.0 L919.0,742.9" fill="none" stroke="#1c1a16" stroke-width="1.15" stroke-linejoin="round" stroke-linecap="round" />
<circle cx="919.0" cy="742.9" r="2.3" fill="#1c1a16"/>
<path d="M961.0,186.0 L968.8,190.3 L968.8,289.6" fill="none" stroke="#1c1a16" stroke-width="1.15" stroke-linejoin="round" stroke-linecap="round" />
<circle cx="968.8" cy="289.8" r="2.1" fill="#1c1a16"/>
<path d="M1161.7,176.0 L1169.0,181.0 L1169.0,288.7" fill="none" stroke="#1c1a16" stroke-width="1.15" stroke-linejoin="round" stroke-linecap="round" />
<circle cx="1169.0" cy="288.9" r="2.1" fill="#1c1a16"/>
<path d="M1330.5,218.6 L1137.0,343.7 L1126.4,343.7" fill="none" stroke="#1c1a16" stroke-width="1.15" stroke-linejoin="round" stroke-linecap="round" />
<circle cx="1126.4" cy="343.7" r="2.3" fill="#1c1a16"/>
<path d="M1021.6,772.5 L1067.0,695.4 L1113.7,692.8" fill="none" stroke="#1c1a16" stroke-width="1.15" stroke-linejoin="round" stroke-linecap="round" />
<circle cx="1113.7" cy="692.8" r="2.3" fill="#1c1a16"/>
<path d="M1306.0,818.0 L1175.6,776.5 L1175.5,723.0" fill="none" stroke="#1c1a16" stroke-width="1.15" stroke-linejoin="round" stroke-linecap="round" />
<circle cx="1175.5" cy="723.0" r="2.5" fill="#1c1a16"/>
<defs>
<linearGradient id="gTop" x1="0" y1="0" x2="0.3" y2="1"><stop offset="0" stop-color="#8f9aa9"/><stop offset="0.6" stop-color="#9ca6b3"/><stop offset="1" stop-color="#a9b2bd"/></linearGradient>
<linearGradient id="gSide" x1="0" y1="0" x2="0.6" y2="1"><stop offset="0" stop-color="#8792a2"/><stop offset="1" stop-color="#717c8d"/></linearGradient>
<linearGradient id="gIn" x1="0" y1="0" x2="1" y2="0"><stop offset="0" stop-color="#9a9ea8"/><stop offset="0.25" stop-color="#70737e"/><stop offset="0.7" stop-color="#5c5f69"/><stop offset="1" stop-color="#666a75"/></linearGradient>
<linearGradient id="gGold" x1="0" y1="1" x2="1" y2="0"><stop offset="0" stop-color="#d8985a"/><stop offset="0.45" stop-color="#d8bc4c"/><stop offset="1" stop-color="#cdb848"/></linearGradient>
<linearGradient id="gGold2" x1="0" y1="0" x2="1" y2="0"><stop offset="0" stop-color="#e0a860"/><stop offset="1" stop-color="#d8b848"/></linearGradient>
<radialGradient id="gWheel" cx="0.45" cy="0.5" r="0.55"><stop offset="0" stop-color="#d0d868"/><stop offset="0.45" stop-color="#b8c448"/><stop offset="0.8" stop-color="#d0bc50"/><stop offset="1" stop-color="#c99a44"/></radialGradient>
<linearGradient id="gSil" x1="0" y1="0" x2="1" y2="1"><stop offset="0" stop-color="#b9bdc8"/><stop offset="1" stop-color="#9ca2ae"/></linearGradient>
<linearGradient id="gSil2" x1="0" y1="0" x2="1" y2="0"><stop offset="0" stop-color="#aeb2bb"/><stop offset="0.6" stop-color="#b9bcc4"/><stop offset="1" stop-color="#c6c8ce"/></linearGradient>
</defs>
<path d="M583.5,121.0 L617.6,111.5 L634.6,121.0 L598.7,132.2Z" fill="#9ba2a7" stroke="none" stroke-width="1.0" stroke-linejoin="round" />
<path d="M617.6,111.5 L617.6,101.2 L634.6,112.0 L634.6,121.0Z" fill="#8a9196" stroke="none" stroke-width="1.0" stroke-linejoin="round" />
<path d="M583.5,121.0 L598.7,132.2 L598.7,169.4 L583.5,154.6Z" fill="#8d9398" stroke="none" stroke-width="1.0" stroke-linejoin="round" />
<path d="M598.7,152.0 L615.8,149.2 L632.8,161.0 L598.7,169.4Z" fill="#979ea3" stroke="none" stroke-width="1.0" stroke-linejoin="round" />
<path d="M624.0,163.0 L632.8,161.0 L632.8,170.8Z" fill="#60666b" stroke="none" stroke-width="1.0" stroke-linejoin="round" />
<path d="M533.3,344.3 L640.2,292.6 L681.4,301.0 L578.0,352.7Z" fill="url(#gTop)" stroke="none" stroke-width="1.0" stroke-linejoin="round" />
<path d="M535.0,345.0 L640.2,293.5" fill="none" stroke="#b8c0ca" stroke-width="1.2" stroke-linejoin="round" stroke-linecap="round" />
<path d="M578.0,352.7 L681.4,301.0 L680.0,356.2 L578.0,417.6Z" fill="url(#gSide)" stroke="none" stroke-width="1.0" stroke-linejoin="round" />
<path d="M578.0,352.7 L681.4,301.0" fill="none" stroke="#c3cad3" stroke-width="1.8" stroke-linejoin="round" stroke-linecap="round" />
<path d="M533.3,344.3 L578.0,352.7 L578.0,417.6 L563.3,414.9 L563.3,406.5 L575.5,401.0 L575.5,355.5 L535.8,348.0 L535.8,403.0 L556.0,399.5 L560.0,400.0 L548.0,409.0 L533.3,406.5Z" fill="#bcc3cc" stroke="none" stroke-width="1.0" stroke-linejoin="round" />
<path d="M535.8,348.0 L575.5,355.5 L575.5,401.0 L563.3,406.5 L560.0,400.0 L556.0,399.5 L535.8,403.0Z" fill="url(#gIn)" stroke="none" stroke-width="1.0" stroke-linejoin="round" />
<path d="M536.0,398.0 L556.0,394.5 L560.0,400.0 L548.0,407.0 L536.0,404.0Z" fill="#a7aeb8" stroke="none" stroke-width="1.0" stroke-linejoin="round" />
<path d="M563.3,402.0 L575.5,396.5 L575.5,401.0 L563.3,406.5Z" fill="#a7aeb8" stroke="none" stroke-width="1.0" stroke-linejoin="round" />
<path d="M536.0,398.0 L556.0,394.5 L560.0,400.0" fill="none" stroke="#ccd2d9" stroke-width="0.8" stroke-linejoin="round" stroke-linecap="round" />
<path d="M584.0,520.0 L661.8,540.0 L662.8,547.0 L610.0,559.0 L590.0,532.0Z" fill="#d6b457" stroke="none" stroke-width="1.0" stroke-linejoin="round" />
<path d="M590.0,498.0 L644.0,487.5 L656.0,503.0 L603.0,512.0Z" fill="#dfae62" stroke="none" stroke-width="1.0" stroke-linejoin="round" />
<path d="M603.0,512.0 L656.0,503.0 L656.0,536.0 L603.0,546.0Z" fill="url(#gGold)" stroke="none" stroke-width="1.0" stroke-linejoin="round" />
<path d="M590.0,498.0 L603.0,512.0 L603.0,546.0 L590.0,528.0Z" fill="#2c2418" stroke="none" stroke-width="1.0" stroke-linejoin="round" />
<path d="M616,489 L624,484 L633,487 L633,500 L624,505 L616,501 Z" fill="#d49e56"/><path d="M616,489 L624,484 L633,487 L625,492 Z" fill="#e8c070"/>
<path d="M619,499 L630,498 L630,504 L620,505 Z" fill="#3a2a18"/>
<path d="M603.0,546.0 L656.0,536.0" fill="none" stroke="#6b5020" stroke-width="1.0" stroke-linejoin="round" stroke-linecap="round" />
<path d="M580.8,684.0 L591.6,686.0 L592.8,769.6 L580.8,758.3Z" fill="#4b4a46" stroke="none" stroke-width="1.0" stroke-linejoin="round" />
<path d="M591.6,686.0 L619.0,681.0 L622.0,674.0 L663.5,674.0 L665.9,681.0 L664.7,759.5 L655.0,762.0 L650.0,758.0 L645.0,763.0 L612.0,770.0 L606.0,766.0 L600.0,770.0 L592.8,769.6Z" fill="#6c6a64" stroke="none" stroke-width="1.0" stroke-linejoin="round" />
<path d="M622.0,674.0 L655.0,672.0 L663.5,677.0 L663.5,684.0 L640.0,686.0 L622.0,686.0Z" fill="#4e4d49" stroke="none" stroke-width="1.0" stroke-linejoin="round" />
<circle cx="609.0" cy="715.0" r="8.5" fill="#7a7872" stroke="#5a5954" stroke-width="1.5" />
<circle cx="609.0" cy="715.0" r="6.3" fill="#d8b84e" stroke="none" stroke-width="0" />
<path d="M604.0,717.5 L614.0,712.5" fill="none" stroke="#3a3020" stroke-width="1.3" stroke-linejoin="round" stroke-linecap="round" />
<circle cx="651.5" cy="710.0" r="8.5" fill="#7a7872" stroke="#5a5954" stroke-width="1.5" />
<circle cx="651.5" cy="710.0" r="6.3" fill="#d6c048" stroke="none" stroke-width="0" />
<path d="M646.5,712.5 L656.5,707.5" fill="none" stroke="#3a3020" stroke-width="1.3" stroke-linejoin="round" stroke-linecap="round" />
<circle cx="630.0" cy="750.0" r="8.5" fill="#7a7872" stroke="#5a5954" stroke-width="1.5" />
<circle cx="630.0" cy="750.0" r="6.3" fill="#e08a4c" stroke="none" stroke-width="0" />
<path d="M625.0,752.5 L635.0,747.5" fill="none" stroke="#3a3020" stroke-width="1.3" stroke-linejoin="round" stroke-linecap="round" />
<circle cx="597.0" cy="682.0" r="2.5" fill="#e8e8e8" stroke="none" stroke-width="0" />
<path d="M523.0,903.0 L647.0,847.0 L653.0,847.5 L653.0,862.0 L552.5,915.6 L529.0,926.0 L528.8,904.0Z" fill="#b3b8c1" stroke="none" stroke-width="1.0" stroke-linejoin="round" />
<path d="M529.0,921.0 L552.5,911.0 L552.5,915.6 L529.0,926.0Z" fill="#9a9fa9" stroke="none" stroke-width="1.0" stroke-linejoin="round" />
<path d="M517.5,902.0 L641.0,846.0 L653.0,847.5 L528.8,904.5Z" fill="#c9cdd4" stroke="none" stroke-width="1.0" stroke-linejoin="round" />
<path d="M529.0,926.0 L552.5,915.6 L550.0,938.0 L530.0,933.0Z" fill="#8a8f9a" stroke="none" stroke-width="1.0" stroke-linejoin="round" />
<path d="M552.5,915.6 L675.0,862.5 L675.0,876.0 L550.0,940.0Z" fill="url(#gSil2)" stroke="none" stroke-width="1.0" stroke-linejoin="round" />
<path d="M546.0,911.0 L674.4,857.5 L675.0,862.5 L552.5,916.0Z" fill="#d3d6dc" stroke="none" stroke-width="1.0" stroke-linejoin="round" />
<path d="M552.5,916.0 L675.0,862.5" fill="none" stroke="#959ba6" stroke-width="0.9" stroke-linejoin="round" stroke-linecap="round" />
<path d="M528.8,904.0 L528.8,933.8 L531.0,935.5 L550.0,940.0" fill="none" stroke="#868b96" stroke-width="1.4" stroke-linejoin="round" stroke-linecap="round" />
<path d="M517.5,902.0 L528.8,904.0" fill="none" stroke="#b0b5be" stroke-width="1.2" stroke-linejoin="round" stroke-linecap="round" />
<path d="M897.5,128.4 L899.0,126.0 L920.8,116.0 L923.0,116.5 L924.0,147.8 L898.8,163.4Z" fill="#767874" stroke="none" stroke-width="1.0" stroke-linejoin="round" />
<ellipse cx="911" cy="135" rx="2.4" ry="3.2" fill="#f1ebcf"/>
<circle cx="904.0" cy="129.0" r="1.1" fill="#3a3a38"/>
<circle cx="918.0" cy="121.0" r="1.1" fill="#3a3a38"/>
<path d="M898.8,163.4 L919.0,148.4 L956.5,157.0 L932.0,172.4Z" fill="#70726e" stroke="none" stroke-width="1.0" stroke-linejoin="round" />
<path d="M898.8,165.0 L932.0,174.0 L957.0,158.5" fill="none" stroke="#a9aba7" stroke-width="1.5" stroke-linejoin="round" stroke-linecap="round" />
<path d="M936.0,155.0 L932.5,159.2 L925.5,159.2 L922.0,155.0 L925.5,150.8 L932.5,150.8Z" fill="#c47f4a"/><ellipse cx="929.0" cy="154.0" rx="3.1" ry="1.9" fill="#e6b07a"/>
<path d="M897.5,166.0 L922.8,172.4 L922.8,207.0 L932.0,204.0 L932.0,210.0 L898.8,220.0 L897.5,210.0Z" fill="#62635f" stroke="none" stroke-width="1.0" stroke-linejoin="round" />
<path d="M898.5,208.0 L922.8,203.0 L932.0,205.0 L932.0,210.0 L898.8,220.0Z" fill="#555652" stroke="none" stroke-width="1.0" stroke-linejoin="round" />
<path d="M932.0,172.4 L957.8,160.8 L959.8,163.0 L959.8,208.8 L935.8,227.0 L924.0,225.6 L932.0,219.0Z" fill="#7c7e7a" stroke="none" stroke-width="1.0" stroke-linejoin="round" />
<path d="M933.0,173.0 L933.0,219.0" fill="none" stroke="#6d6f6b" stroke-width="1.2" stroke-linejoin="round" stroke-linecap="round" />
<path d="M1086.8,96.4 L1134.3,74.8 L1135.0,111.0 L1088.9,130.7Z" fill="#8d8f8b" stroke="none" stroke-width="1.0" stroke-linejoin="round" />
<ellipse cx="1099" cy="107" rx="2.2" ry="3" fill="#f1ebcf"/><ellipse cx="1122" cy="94" rx="2.2" ry="3" fill="#f1ebcf"/>
<path d="M1088.9,130.7 L1131.5,111.0 L1167.8,114.6 L1124.5,139.0Z" fill="#7e807c" stroke="none" stroke-width="1.0" stroke-linejoin="round" />
<path d="M1122.0,125.0 L1119.0,128.5 L1113.0,128.5 L1110.0,125.0 L1113.0,121.5 L1119.0,121.5Z" fill="#c4824c"/><ellipse cx="1116.0" cy="124.0" rx="2.7" ry="1.6" fill="#e2aa78"/><path d="M1146.0,113.0 L1143.0,116.5 L1137.0,116.5 L1134.0,113.0 L1137.0,109.5 L1143.0,109.5Z" fill="#b88e3e"/><ellipse cx="1140.0" cy="112.0" rx="2.7" ry="1.6" fill="#d8b464"/>
<path d="M1086.8,136.2 L1124.5,140.4 L1124.5,186.5 L1088.0,189.3Z" fill="#4a4b47" stroke="none" stroke-width="1.0" stroke-linejoin="round" />
<path d="M1124.5,140.4 L1170.6,116.7 L1170.6,171.0 L1125.9,195.0 L1116.0,190.7 L1124.5,186.5Z" fill="#80827e" stroke="none" stroke-width="1.0" stroke-linejoin="round" />
<path d="M1088.0,180.0 L1124.5,175.0 L1124.5,186.5 L1088.0,189.3Z" fill="#3b3c39" stroke="none" stroke-width="1.0" stroke-linejoin="round" />
<ellipse cx="1367" cy="149" rx="13.5" ry="16.5" fill="#c08a3e"/>
<path d="M1353.7,139.7 L1367.0,132.5 L1367.0,165.5 L1353.7,173.7Z" fill="#c99c48" stroke="none" stroke-width="1.0" stroke-linejoin="round" />
<ellipse cx="1323" cy="140" rx="13" ry="16" fill="#c59a48"/>
<path d="M1314.0,131.0 L1323.0,124.0 L1323.0,156.0 L1314.0,165.0Z" fill="#cda54c" stroke="none" stroke-width="1.0" stroke-linejoin="round" />
<path d="M1332.0,136.0 L1346.0,136.0 L1345.0,176.0 L1333.0,176.0Z" fill="#c9a650" stroke="none" stroke-width="1.0" stroke-linejoin="round" />
<ellipse cx="1339" cy="136" rx="8" ry="4.5" fill="#d8c878" stroke="#9a7a38" stroke-width="1"/>
<path d="M1334.0,174.0 L1344.0,174.0 L1344.0,196.0 L1334.0,196.0Z" fill="#c58a40" stroke="none" stroke-width="1.0" stroke-linejoin="round" />
<path d="M1334.0,176.0 L1344.0,177.0" fill="none" stroke="#8a5a28" stroke-width="0.9" stroke-linejoin="round" stroke-linecap="round" />
<path d="M1334.0,179.0 L1344.0,180.0" fill="none" stroke="#8a5a28" stroke-width="0.9" stroke-linejoin="round" stroke-linecap="round" />
<path d="M1334.0,182.0 L1344.0,183.0" fill="none" stroke="#8a5a28" stroke-width="0.9" stroke-linejoin="round" stroke-linecap="round" />
<path d="M1334.0,185.0 L1344.0,186.0" fill="none" stroke="#8a5a28" stroke-width="0.9" stroke-linejoin="round" stroke-linecap="round" />
<path d="M1334.0,188.0 L1344.0,189.0" fill="none" stroke="#8a5a28" stroke-width="0.9" stroke-linejoin="round" stroke-linecap="round" />
<path d="M1334.0,191.0 L1344.0,192.0" fill="none" stroke="#8a5a28" stroke-width="0.9" stroke-linejoin="round" stroke-linecap="round" />
<path d="M1334.0,194.0 L1344.0,195.0" fill="none" stroke="#8a5a28" stroke-width="0.9" stroke-linejoin="round" stroke-linecap="round" />
<path d="M1328.4,195.0 L1348.2,195.0 L1348.2,206.0 L1328.4,206.0Z" fill="#c98e44" stroke="none" stroke-width="1.0" stroke-linejoin="round" />
<path d="M1338.0,195.0 L1338.0,206.0" fill="none" stroke="#a06a30" stroke-width="0.8" stroke-linejoin="round" stroke-linecap="round" />
<path d="M1328.0,206.0 L1348.6,206.0 L1348.6,210.0 L1328.0,210.0Z" fill="#6e5028" stroke="none" stroke-width="1.0" stroke-linejoin="round" />
<path d="M1328.4,210.0 L1348.2,210.0 L1348.2,218.5 L1328.4,218.5Z" fill="#cc9448" stroke="none" stroke-width="1.0" stroke-linejoin="round" />
<ellipse cx="1314.1" cy="147.9" rx="14.8" ry="17" fill="url(#gWheel)" stroke="#c28e40" stroke-width="2.2"/>
<ellipse cx="1353.7" cy="156.7" rx="14.5" ry="17" fill="url(#gWheel)" stroke="#c28e40" stroke-width="2.2"/>
<circle cx="1314.0" cy="148.0" r="3.8" fill="#a8a098" stroke="#e6dea0" stroke-width="1.3" />
<circle cx="1353.7" cy="156.7" r="3.8" fill="#a8a098" stroke="#e6dea0" stroke-width="1.3" />
<path d="M976.4,776.1 L988.0,773.5 L992.0,777.5 L1014.0,774.0 L1020.0,771.0 L1040.8,769.5 L1041.0,790.0 L988.0,790.0 L988.0,840.0 L976.4,832.0Z" fill="#6e7176" stroke="none" stroke-width="1.0" stroke-linejoin="round" />
<path d="M980.0,792.0 L988.0,792.0 L988.0,812.0 L980.0,812.0Z" fill="#2e2c28" stroke="none" stroke-width="1.0" stroke-linejoin="round" />
<path d="M982.0,795.0 L988.0,795.0 L988.0,809.0 L982.0,809.0Z" fill="#b89a40" stroke="none" stroke-width="1.0" stroke-linejoin="round" />
<path d="M988.2,781.8 L1004.0,782.7 L1008.0,779.0 L1036.0,776.5 L1040.0,774.5 L1053.6,776.0 L1053.6,833.0 L988.7,840.6Z" fill="#8c8f94" stroke="none" stroke-width="1.0" stroke-linejoin="round" />
<path d="M988.5,782.0 L988.7,840.0" fill="none" stroke="#a5a8ad" stroke-width="1.2" stroke-linejoin="round" stroke-linecap="round" />
<circle cx="1002.9" cy="807.4" r="7.3" fill="#7d8085" stroke="#a8acb2" stroke-width="1.4" />
<circle cx="1002.9" cy="807.4" r="5.8" fill="#d9ad52" stroke="none" stroke-width="0" />
<path d="M998.9,810.4 L1006.9,804.4" fill="none" stroke="#3c3220" stroke-width="1.2" stroke-linejoin="round" stroke-linecap="round" />
<circle cx="1041.8" cy="801.7" r="7.3" fill="#7d8085" stroke="#a8acb2" stroke-width="1.4" />
<circle cx="1041.8" cy="801.7" r="5.8" fill="#d9ad52" stroke="none" stroke-width="0" />
<path d="M1037.8,804.7 L1045.8,798.7" fill="none" stroke="#3c3220" stroke-width="1.2" stroke-linejoin="round" stroke-linecap="round" />
<path d="M990.0,838.0 L1000.0,834.0 L1000.0,841.0 L990.0,843.0Z" fill="#c9a95a" stroke="none" stroke-width="1.0" stroke-linejoin="round" />
<path d="M1006.0,838.0 L1021.0,834.0 L1022.8,836.0 L1022.8,850.0 L1006.0,850.0Z" fill="#1f1f1f" stroke="none" stroke-width="1.0" stroke-linejoin="round" />
<path d="M1008.0,848.0 L1021.0,848.0 L1021.0,853.0 L1008.0,853.0Z" fill="#c9a24a" stroke="none" stroke-width="1.0" stroke-linejoin="round" />
<path d="M1273.4,834.9 L1307.8,819.7 L1320.0,832.0 L1283.9,852.2Z" fill="#b4bac7" stroke="none" stroke-width="1.0" stroke-linejoin="round" />
<path d="M1273.4,834.9 L1283.9,852.2 L1320.0,832.0" fill="none" stroke="#8a909c" stroke-width="1.2" stroke-linejoin="round" stroke-linecap="round" />
<path d="M1308.5,800.1 L1320.8,814.6 L1320.0,832.7 L1307.8,820.4Z" fill="#9197a3" stroke="none" stroke-width="1.0" stroke-linejoin="round" />
<path d="M1308.5,800.1 L1311.0,801.0 L1311.0,822.0 L1307.8,820.4Z" fill="#c4c8d2" stroke="none" stroke-width="1.0" stroke-linejoin="round" />
<path d="M1320.8,814.6 L1344.7,800.1 L1355.9,817.1 L1320.8,832.7Z" fill="#bcc1cd" stroke="none" stroke-width="1.0" stroke-linejoin="round" />
<path d="M1320.8,832.7 L1355.9,817.1" fill="none" stroke="#8a909c" stroke-width="1.2" stroke-linejoin="round" stroke-linecap="round" />
<circle cx="1291.0" cy="832.0" r="3.0" fill="#7f8591" stroke="none" stroke-width="0" />
<circle cx="1291.0" cy="832.0" r="1.7" fill="#fafafa" stroke="none" stroke-width="0" />
<circle cx="1307.0" cy="834.9" r="3.0" fill="#7f8591" stroke="none" stroke-width="0" />
<circle cx="1307.0" cy="834.9" r="1.7" fill="#fafafa" stroke="none" stroke-width="0" />
<circle cx="1286.0" cy="845.0" r="3.0" fill="#7f8591" stroke="none" stroke-width="0" />
<circle cx="1286.0" cy="845.0" r="1.7" fill="#fafafa" stroke="none" stroke-width="0" />
<circle cx="1341.8" cy="807.4" r="3.0" fill="#7f8591" stroke="none" stroke-width="0" />
<circle cx="1341.8" cy="807.4" r="1.7" fill="#fafafa" stroke="none" stroke-width="0" />
<circle cx="1336.7" cy="819.7" r="3.0" fill="#7f8591" stroke="none" stroke-width="0" />
<circle cx="1336.7" cy="819.7" r="1.7" fill="#fafafa" stroke="none" stroke-width="0" />
</svg>
</body></html>
